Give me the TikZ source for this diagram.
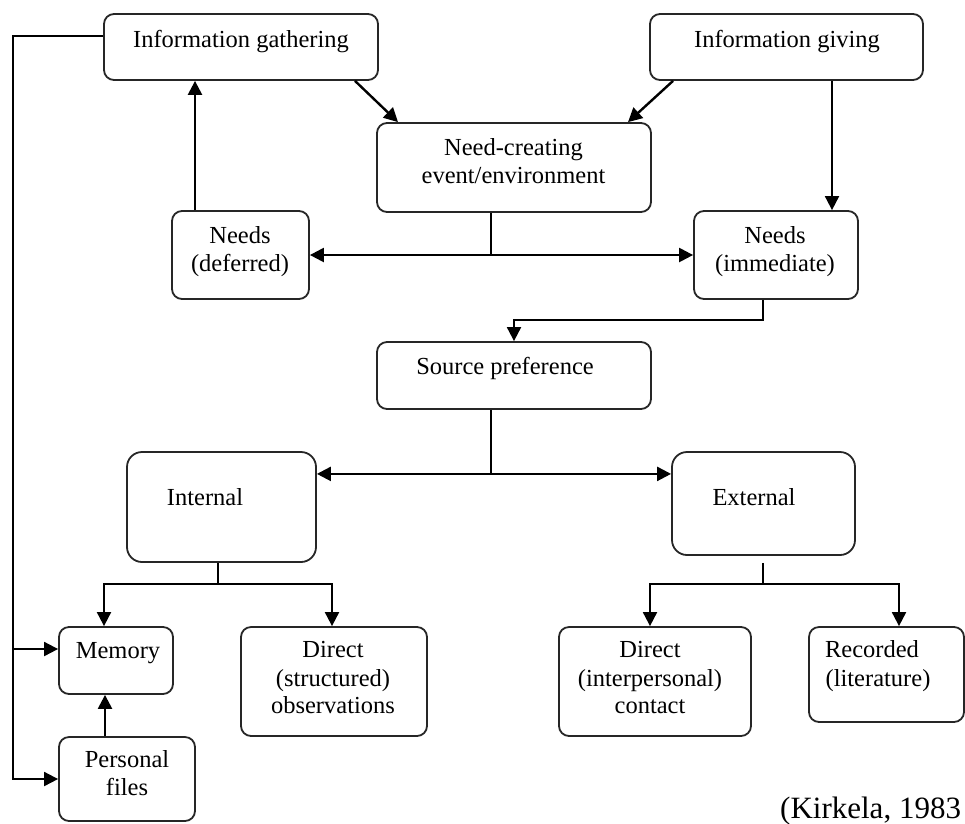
\documentclass[tikz,border=0pt]{standalone}
\usepackage{fontspec}
\setmainfont{Liberation Serif}
\usetikzlibrary{arrows.meta,calc}
\newcommand\lblfont{\fontsize{24.5}{28}\selectfont}
\newcommand\citefont{\fontsize{31}{36}\selectfont}
\tikzset{
  box/.style={draw=black!85, line width=1.8pt, rounded corners=10pt, inner sep=0pt},
  bigbox/.style={box, rounded corners=15pt},
  lbl/.style={anchor=base, font=\lblfont, inner sep=0pt},
  tip/.style={-{Triangle[length=14pt,width=14pt]}},
  thickarr/.style={line width=2.4pt, tip},
  thinarr/.style={line width=1.9pt, tip},
  twoarr/.style={line width=2.3pt, {Triangle[length=14pt,width=14pt]}-{Triangle[length=14pt,width=14pt]}},
  plain/.style={line width=1.8pt},
}
\begin{document}
\begin{tikzpicture}[x=1pt,y=-1pt]
\useasboundingbox (0,0) rectangle (965,823);

% boxes
\node[box, minimum width=274pt, minimum height=66pt] (ig)  at (241,47) {};
\node[box, minimum width=273pt, minimum height=66pt] (igv) at (786.5,47) {};
\node[box, minimum width=274pt, minimum height=89pt] (nce) at (514,167.5) {};
\node[box, minimum width=137pt, minimum height=88pt] (nd)  at (240.5,255) {};
\node[box, minimum width=164pt, minimum height=88pt] (ni)  at (776,255) {};
\node[box, minimum width=274pt, minimum height=67pt] (sp)  at (514,375.5) {};
\node[bigbox, minimum width=189pt, minimum height=110pt] (in) at (221.5,507) {};
\node[bigbox, minimum width=183pt, minimum height=103pt] (ex) at (763.5,503.5) {};
\node[box, minimum width=114pt, minimum height=67pt] (mem) at (116,660.5) {};
\node[box, minimum width=186pt, minimum height=109pt] (dso) at (334,681.5) {};
\node[box, minimum width=136pt, minimum height=84pt] (pf)  at (127,779) {};
\node[box, minimum width=192pt, minimum height=109pt] (dic) at (655,681.5) {};
\node[box, minimum width=155pt, minimum height=95pt] (rec) at (886.5,674.5) {};

% labels
\node[lbl] (igt)  at (241,47) {Information gathering};
\node[lbl] (igvt) at (787,47) {Information giving};
\node[lbl] (ncea) at (513.5,155) {Need-creating};
\node[lbl] (nceb) at (513.5,183) {event/environment};
\node[lbl] (nda)  at (240,243) {Needs};
\node[lbl] (ndb)  at (240,271) {(deferred)};
\node[lbl] (nia)  at (775,243) {Needs};
\node[lbl] (nib)  at (775,271) {(immediate)};
\node[lbl] (spt)  at (505,374) {Source preference};
\node[lbl] (int)  at (205,505) {Internal};
\node[lbl] (ext)  at (754,505) {External};
\node[lbl] (memt) at (118,658) {Memory};
\node[lbl] (dsoa) at (333,657) {Direct};
\node[lbl] (dsob) at (333,686) {(structured)};
\node[lbl] (dsoc) at (333,713) {observations};
\node[lbl] (pfa)  at (127,767) {Personal};
\node[lbl] (pfb)  at (127,795) {files};
\node[lbl] (dica) at (650,657) {Direct};
\node[lbl] (dicb) at (650,686) {(interpersonal)};
\node[lbl] (dicc) at (650,713) {contact};
\node[lbl] (reca) at (872,657) {Recorded};
\node[lbl] (recb) at (878,686) {(literature)};
\node[anchor=base west, font=\citefont, inner sep=0pt] (cite) at (780,818) {(Kirkela, 1983};

% top connectors
\draw[thickarr] ($(ig.south)+(114,0)$) -- ($(nce.north)+(-116,0)$);
\draw[thickarr] ($(igv.south)+(-113.5,0)$) -- ($(nce.north)+(114,0)$);
\coordinate (gv) at ($(igv.south)+(45.5,0)$);
\draw[thinarr] (gv) -- (gv |- ni.north);
\coordinate (ndu) at ($(nd.north)+(-45.5,0)$);
\draw[thickarr] (ndu) -- (ndu |- ig.south);

% need-creating event splits into deferred / immediate needs
\coordinate (ncb) at ($(nce.south)+(-23,0)$);
\draw[plain] (ncb) -- (ncb |- nd.east);
\draw[twoarr] (nd.east) -- (ni.west);

% immediate needs feed source preference
\draw[thinarr] ($(ni.south)+(-13,0)$) |- ($(sp.north)+(0,-21)$) -- (sp.north);

% source preference splits into internal / external
\coordinate (spb) at ($(sp.south)+(-23,0)$);
\coordinate (spj) at ($(sp.south)+(-23,64)$);
\draw[plain] (spb) -- (spj);
\draw[twoarr] (spj -| in.east) -- (spj -| ex.west);

% internal sources
\coordinate (inj) at ($(in.south)+(-3.5,21)$);
\draw[plain] ($(in.south)+(-3.5,0)$) -- (inj);
\draw[thinarr] (inj) -| ($(mem.north)+(-12,0)$);
\draw[thinarr] (inj) -| ($(dso.north)+(-2,0)$);

% external sources
\coordinate (exj) at ($(ex.south)+(-0.5,28)$);
\draw[plain] ($(ex.south)+(-0.5,7)$) -- (exj);
\draw[thinarr] (exj) -| ($(dic.north)+(-5,0)$);
\draw[thinarr] (exj) -| ($(rec.north)+(12.5,0)$);

% personal files to memory
\coordinate (pfu) at ($(pf.north)+(-22,0)$);
\draw[thickarr] (pfu) -- (pfu |- mem.south);

% feedback from information gathering
\coordinate (fbx) at (13,0);
\coordinate (mw) at ($(mem.west)+(0,-11.5)$);
\draw[thinarr] ($(ig.west)+(0,-11)$) -| (fbx |- pf.west) -- (pf.west);
\draw[thinarr] (fbx |- mw) -- (mw);
\end{tikzpicture}
\end{document}
